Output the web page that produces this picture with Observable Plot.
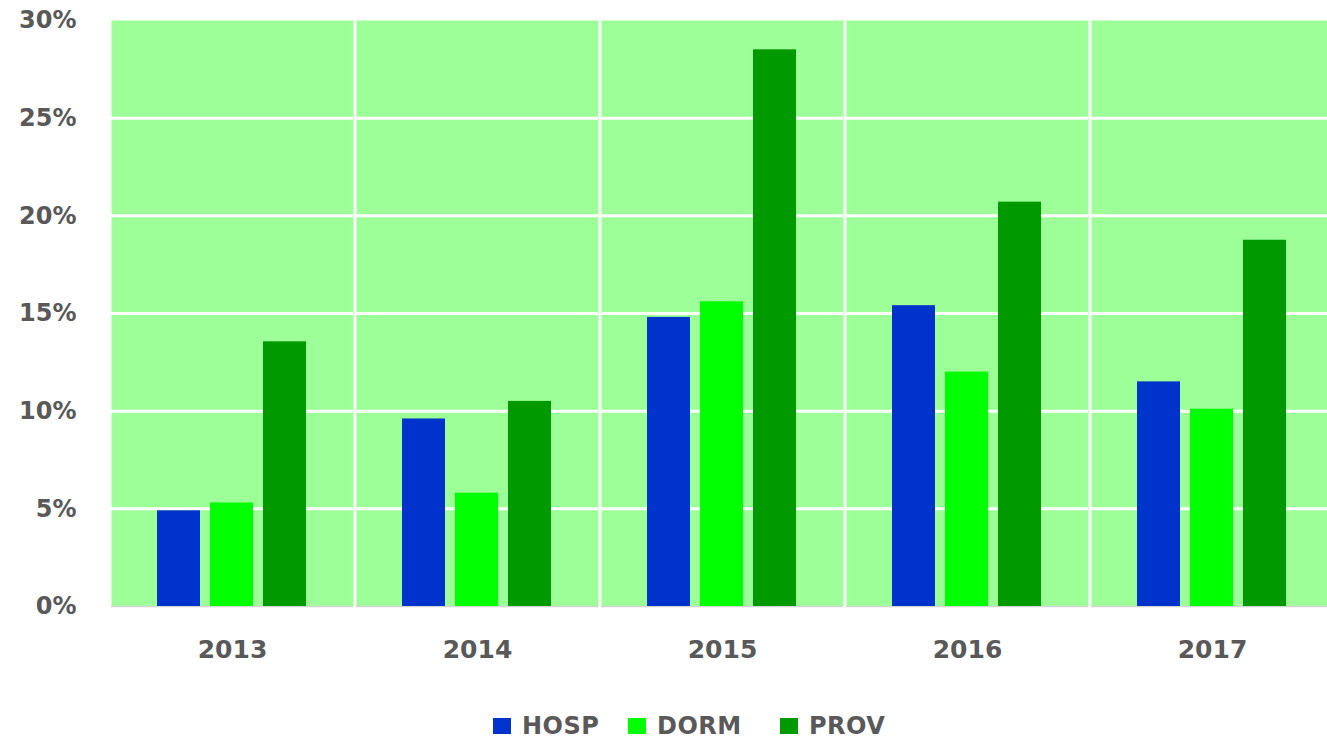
<!DOCTYPE html>
<html>
<head>
<meta charset="utf-8">
<script src="https://cdn.jsdelivr.net/npm/d3@7"></script>
<script src="https://cdn.jsdelivr.net/npm/@observablehq/plot@0.6"></script>
<style>
  html, body { margin: 0; padding: 0; background: #fff; overflow: hidden; width: 1327px; height: 741px; }
  #chart { position: absolute; left: 0; top: 0; width: 1336px; }
  #chart svg { max-width: none !important; }
  #legend { position: absolute; left: 0; top: 711px; width: 1327px; height: 30px;
    font-family: "DejaVu Sans", sans-serif; font-weight: bold; font-size: 24px; color: #595959; }
  .sw { position: absolute; top: 7px; width: 18px; height: 16px; }
  .lt { position: absolute; top: 0; line-height: 30px; letter-spacing: 0.5px; }
</style>
</head>
<body>
<div id="chart"></div>
<div id="legend"></div>
<script>
const years = ["2013", "2014", "2015", "2016", "2017"];
const series = ["HOSP", "DORM", "PROV"];
const hosp = [4.9, 9.6, 14.8, 15.4, 11.5];
const dorm = [5.3, 5.8, 15.6, 12.0, 10.1];
const prov = [13.55, 10.5, 28.5, 20.7, 18.75];
const yTicks = [0, 5, 10, 15, 20, 25, 30];

const colors = ["#0033cc", "#00ff00", "#009900"];
const bg = "#9dff97";

const values = [hosp, dorm, prov];
const data = [];
years.forEach((yr, i) => {
  series.forEach((s, j) => data.push({year: yr, series: s, value: values[j][i]}));
});

const plot = Plot.plot({
  width: 1336,
  height: 690,
  marginLeft: 109,
  marginRight: 0,
  marginTop: 20,
  marginBottom: 84,
  style: {fontFamily: "DejaVu Sans, sans-serif", fontWeight: "bold", fontSize: "24px", color: "#595959", background: "white"},
  fx: {domain: years, paddingInner: 0.012, paddingOuter: 0, label: null},
  x: {domain: series, paddingInner: 0.18, paddingOuter: 0.85, axis: null},
  y: {domain: [0, 30], label: null},
  color: {domain: series, range: colors},
  marks: [
    Plot.frame({fill: bg, stroke: null}),
    Plot.gridY(yTicks.filter(d => d > 0 && d < 30), {stroke: "white", strokeOpacity: 1, strokeWidth: 3}),
    Plot.ruleY([0], {stroke: "#d4d4d4", strokeWidth: 1.5}),
    Plot.barY(data, {fx: "year", x: "series", y: "value", fill: "series"}),
    Plot.axisY({ticks: yTicks, tickFormat: d => d + "%", tickSize: 0, tickPadding: 35, label: null}),
    Plot.axisFx({anchor: "bottom", tickSize: 0, tickPadding: 34, fontSize: 25, label: null})
  ]
});
document.getElementById("chart").appendChild(plot);

const legend = document.getElementById("legend");
const swLeft = [493, 628, 780];
series.forEach((s, i) => {
  const sw = document.createElement("div");
  sw.className = "sw";
  sw.style.left = swLeft[i] + "px";
  sw.style.background = colors[i];
  const t = document.createElement("div");
  t.className = "lt";
  t.style.left = (swLeft[i] + 29) + "px";
  t.textContent = s;
  legend.appendChild(sw);
  legend.appendChild(t);
});
</script>
</body>
</html>
